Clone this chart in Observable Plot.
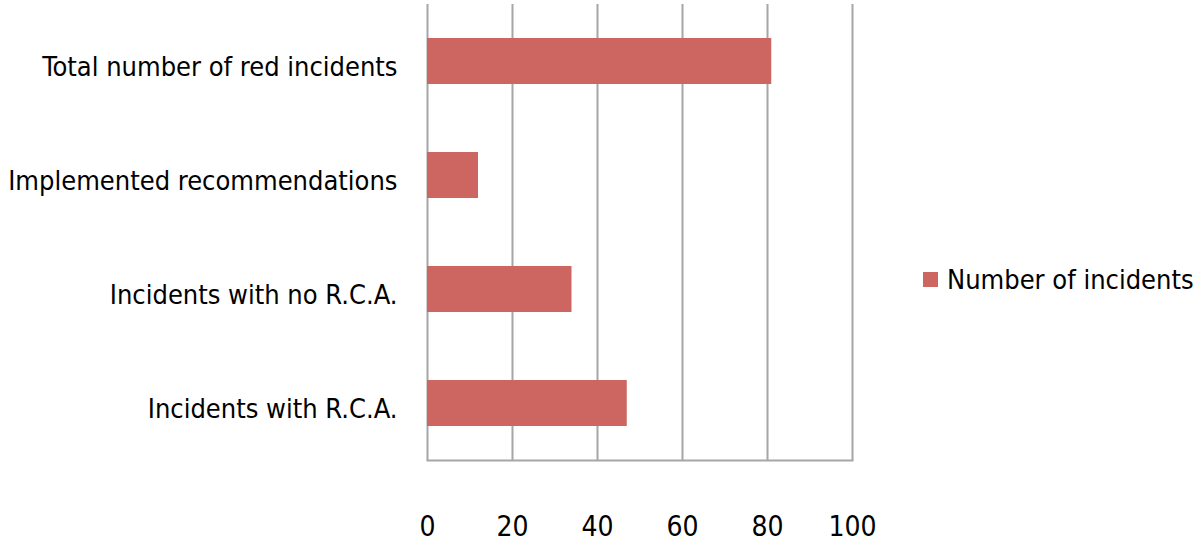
<!DOCTYPE html>
<html>
<head>
<meta charset="utf-8">
<script src="https://cdn.jsdelivr.net/npm/d3@7"></script>
<script src="https://cdn.jsdelivr.net/npm/@observablehq/plot@0.6"></script>
<style>
  html, body { margin: 0; padding: 0; background: #fff; }
  #wrap { position: relative; width: 1200px; height: 545px; font-family: "DejaVu Sans Condensed", sans-serif; }
  #legend { position: absolute; left: 923px; top: 264px; display: flex; align-items: center; font-size: 27px; color: #000; white-space: nowrap; }
  #legend .sw { width: 15px; height: 15px; background: #cd6560; margin-right: 9px; flex: none; }
</style>
</head>
<body>
<div id="wrap"><div id="legend"><span class="sw"></span><span id="legtext"></span></div></div>
<script>
const categories = ["Total number of red incidents", "Implemented recommendations", "Incidents with no R.C.A.", "Incidents with R.C.A."];
const values = [81, 12, 34, 47];
const xTicks = [0, 20, 40, 60, 80, 100];
const seriesName = "Number of incidents";

const data = categories.map((c, i) => ({category: c, value: values[i]}));
document.getElementById("legtext").textContent = seriesName;

const chart = Plot.plot({
  width: 1200,
  height: 545,
  marginLeft: 427,
  marginRight: 348,
  marginTop: 4,
  marginBottom: 85,
  style: {fontFamily: "'DejaVu Sans Condensed', sans-serif", fontSize: "27px", color: "#000", background: "#fff"},
  x: {domain: [0, 100], ticks: xTicks, label: null},
  y: {domain: categories, paddingInner: 0.6, paddingOuter: 0.3, label: null},
  marks: [
    Plot.gridX(xTicks, {stroke: "#a6a6a6", strokeOpacity: 1, strokeWidth: 2}),
    Plot.frame({anchor: "bottom", stroke: "#a6a6a6", strokeWidth: 2}),
    Plot.barX(data, {x: "value", y: "category", fill: "#cd6560"}),
    Plot.axisX({ticks: xTicks, tickSize: 0, tickPadding: 56, fontSize: 28, label: null}),
    Plot.axisY({tickSize: 0, tickPadding: 30, fontSize: 27, dy: 6, label: null})
  ]
});
document.getElementById("wrap").prepend(chart);
</script>
</body>
</html>
